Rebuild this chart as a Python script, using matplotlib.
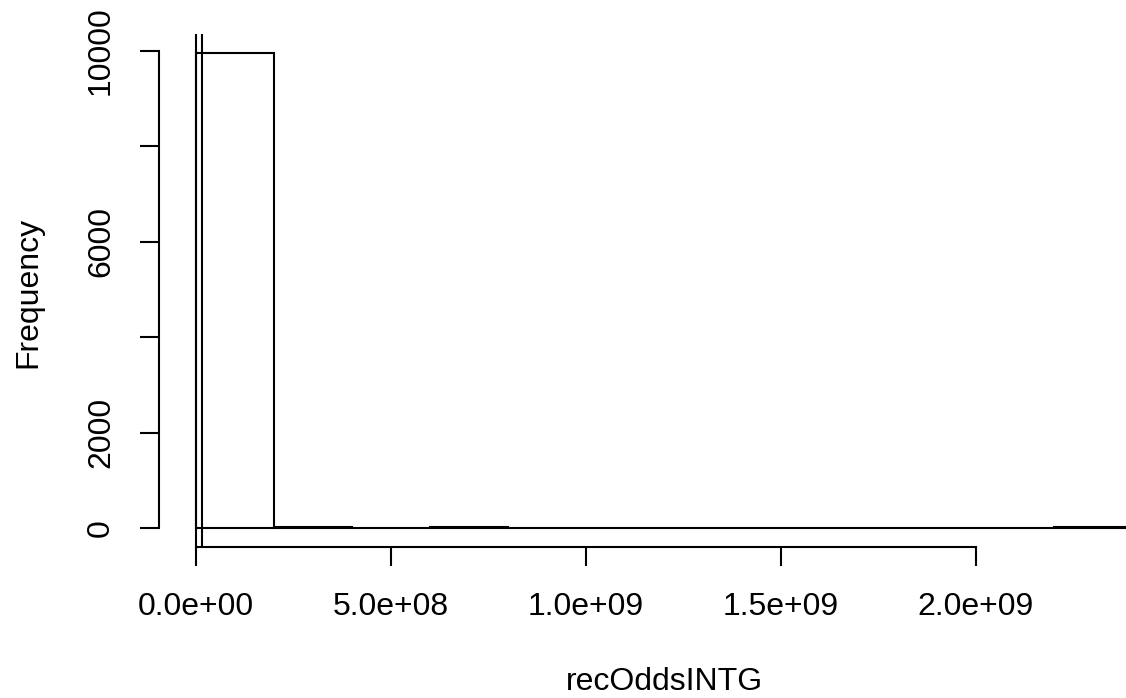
import numpy as np
import matplotlib.pyplot as plt

plt.rcParams['font.family'] = ['Liberation Sans', 'DejaVu Sans']

# histogram bins (width 2e8) and their counts
breaks = [0.0, 2e8, 4e8, 6e8, 8e8, 1.0e9, 1.2e9, 1.4e9, 1.6e9, 1.8e9, 2.0e9, 2.2e9, 2.4e9]
counts = [9958, 20, 8, 14, 0, 0, 0, 0, 0, 0, 0, 16]
vlines = [0.0, 1.54e7]
xticks = [0.0, 5e8, 1.0e9, 1.5e9, 2.0e9]
xticklabels = ['0.0e+00', '5.0e+08', '1.0e+09', '1.5e+09', '2.0e+09']
yticks = [0, 2000, 4000, 6000, 8000, 10000]
# labels that would overlap are dropped, as R does
yticklabels = ['0', '2000', '', '6000', '', '10000']

W, H = 1126, 698
fig = plt.figure(figsize=(W / 100, H / 100), dpi=100)

# plot region in pixels (runs past the right edge of the canvas)
left, right, top, bottom = 158.6, 1169, 34, 547
ax = fig.add_axes([left / W, 1 - bottom / H, (right - left) / W, (bottom - top) / H])

lw = 1.5
fs = 23
edges = np.array(breaks)
ax.bar(edges[:-1], counts, width=np.diff(edges), align='edge',
       fill=False, edgecolor='black', linewidth=lw)
for v in vlines:
    ax.axvline(v, color='black', linewidth=lw)

# R-style range padding of 4%
xr = breaks[-1] - breaks[0]
ax.set_xlim(breaks[0] - 0.04 * xr, breaks[-1] + 0.04 * xr)
ymax = max(counts)
ax.set_ylim(-0.04 * ymax, 1.04 * ymax)

for s in ['top', 'right']:
    ax.spines[s].set_visible(False)
ax.spines['bottom'].set_bounds(xticks[0], xticks[-1])
ax.spines['left'].set_bounds(yticks[0], yticks[-1])
for s in ['bottom', 'left']:
    ax.spines[s].set_linewidth(lw)

ax.set_xticks(xticks)
ax.set_xticklabels(xticklabels)
ax.set_yticks(yticks)
ax.set_yticklabels(yticklabels, rotation=90, va='center')
ax.tick_params(axis='both', direction='out', length=13.7, width=lw,
               labelsize=fs, color='black')
ax.tick_params(axis='x', pad=19)
ax.tick_params(axis='y', pad=17)

fig.text(664 / W, 1 - 682 / H, 'recOddsINTG', ha='center', va='center', fontsize=fs)
fig.text(28 / W, 1 - 292 / H, 'Frequency', ha='center', va='center',
         rotation=90, fontsize=fs)

fig.savefig('out.png', dpi=100)
